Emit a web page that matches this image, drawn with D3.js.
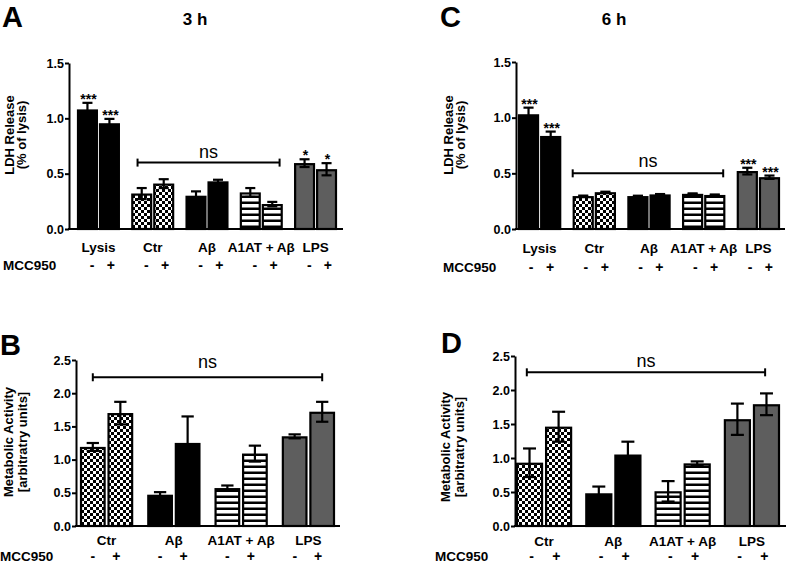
<!DOCTYPE html>
<html>
<head>
<meta charset="utf-8">
<script src="https://cdn.jsdelivr.net/npm/d3@7"></script>
<style>
  body { margin: 0; background: #fff; }
  svg { display: block; }
  text { font-family: "Liberation Sans", Arial, sans-serif; }
</style>
</head>
<body>
<div id="chart"></div>
<script>
// categories
const ldhGroups = ['Lysis', 'Ctr', 'Aβ', 'A1AT + Aβ', 'LPS']
const metaGroups = ['Ctr', 'Aβ', 'A1AT + Aβ', 'LPS']
const mcc950 = ['-', '+']
const ldhFills = ['black', 'check', 'black', 'stripe', 'gray']
const metaFills = ['check', 'black', 'stripe', 'gray']

// tick labels
const ldhTicks = [0, 0.5, 1.0, 1.5]
const metaTicks = [0, 0.5, 1.0, 1.5, 2.0, 2.5]

// values, ordered group by group (- then +)
const ldh3hMean = [1.08, 0.955, 0.32, 0.41, 0.30, 0.43, 0.33, 0.225, 0.595, 0.54]
const ldh3hErr = [0.06, 0.04, 0.05, 0.04, 0.04, 0.015, 0.04, 0.02, 0.035, 0.055]
const ldh3hStars = ['***', '***', '', '', '', '', '', '', '*', '*']

const ldh6hMean = [1.03, 0.835, 0.295, 0.33, 0.295, 0.31, 0.315, 0.305, 0.52, 0.465]
const ldh6hErr = [0.06, 0.04, 0.005, 0.005, 0.004, 0.004, 0.005, 0.005, 0.03, 0.015]
const ldh6hStars = ['***', '***', '', '', '', '', '', '', '***', '***']

const meta3hMean = [1.19, 1.70, 0.47, 1.25, 0.57, 1.09, 1.35, 1.72]
const meta3hErr = [0.06, 0.17, 0.04, 0.40, 0.04, 0.12, 0.03, 0.15]

const meta6hMean = [0.93, 1.46, 0.48, 1.05, 0.51, 0.92, 1.57, 1.79]
const meta6hErr = [0.21, 0.22, 0.10, 0.19, 0.15, 0.03, 0.23, 0.16]

var svg = d3
  .select('#chart')
  .append('svg')
  .attr('width', 786)
  .attr('height', 565)

// fill patterns
var defs = svg.append('defs')
var check = defs
  .append('pattern')
  .attr('id', 'check')
  .attr('patternUnits', 'userSpaceOnUse')
  .attr('width', 6)
  .attr('height', 6)
check.append('rect').attr('width', 6).attr('height', 6).attr('fill', 'black')
check.append('rect').attr('width', 3).attr('height', 3).attr('fill', 'white')
check.append('rect').attr('x', 3).attr('y', 3).attr('width', 3).attr('height', 3).attr('fill', 'white')

var stripe = defs
  .append('pattern')
  .attr('id', 'stripe')
  .attr('patternUnits', 'userSpaceOnUse')
  .attr('width', 6)
  .attr('height', 6)
stripe.append('rect').attr('width', 6).attr('height', 6).attr('fill', 'white')
stripe.append('rect').attr('y', 3.5).attr('width', 6).attr('height', 2.5).attr('fill', 'black')

var fillOf = {
  black: 'black',
  gray: '#5e5e5e',
  check: 'url(#check)',
  stripe: 'url(#stripe)',
}

function drawPanel(p) {
  var g = svg.append('g')

  var y = d3.scaleLinear().domain([0, p.yMax]).range([p.y0, p.yTop])

  var x = d3
    .scaleBand()
    .domain(p.groups)
    .range([p.xStart, p.xEnd])
    .paddingInner(p.groupPad)

  var xi = d3
    .scaleBand()
    .domain(mcc950)
    .range([0, x.bandwidth()])
    .paddingInner(p.barPad)

  var bw = xi.bandwidth()

  var rows = []
  p.groups.forEach(function(grp, gi) {
    mcc950.forEach(function(m, mi) {
      var k = gi * 2 + mi
      rows.push({
        group: grp,
        mcc: m,
        fill: p.fills[gi],
        mean: p.mean[k],
        err: p.err[k],
        star: p.stars ? p.stars[k] : '',
      })
    })
  })

  function bx(d) {
    return x(d.group) + xi(d.mcc)
  }

  // bars
  g.selectAll('.bar')
    .data(rows)
    .enter()
    .append('rect')
    .attr('x', function(d) { return bx(d) + 1 })
    .attr('y', function(d) { return y(d.mean) + 1 })
    .attr('width', bw - 2)
    .attr('height', function(d) { return y(0) - y(d.mean) - 1 })
    .attr('fill', function(d) { return fillOf[d.fill] })
    .attr('stroke', 'black')
    .attr('stroke-width', 2.2)

  // error bars
  var eb = g.selectAll('.err').data(rows).enter().append('g')
  eb.append('line')
    .attr('x1', function(d) { return bx(d) + bw / 2 })
    .attr('x2', function(d) { return bx(d) + bw / 2 })
    .attr('y1', function(d) { return y(d.mean - d.err) })
    .attr('y2', function(d) { return y(d.mean + d.err) })
    .attr('stroke', 'black')
    .attr('stroke-width', 2.2)
  ;[1, -1].forEach(function(s) {
    eb.append('line')
      .attr('x1', function(d) { return bx(d) + bw * 0.26 })
      .attr('x2', function(d) { return bx(d) + bw * 0.74 })
      .attr('y1', function(d) { return y(d.mean + s * d.err) })
      .attr('y2', function(d) { return y(d.mean + s * d.err) })
      .attr('stroke', 'black')
      .attr('stroke-width', 2.2)
  })

  // significance stars
  g.selectAll('.star')
    .data(rows.filter(function(d) { return d.star }))
    .enter()
    .append('text')
    .attr('x', function(d) { return bx(d) + bw / 2 + 1 })
    .attr('y', function(d) { return y(d.mean + d.err) + 1 })
    .attr('text-anchor', 'middle')
    .style('font-size', '14px')
    .style('font-weight', 'bold')
    .text(function(d) { return d.star })

  // y axis
  var yAxis = g
    .append('g')
    .attr('transform', 'translate(' + p.axisX + ',0)')
    .call(
      d3
        .axisLeft(y)
        .tickValues(p.ticks)
        .tickFormat(d3.format('.1f'))
        .tickSize(4)
        .tickSizeOuter(0)
        .tickPadding(1)
    )
  yAxis.select('.domain').attr('stroke-width', 2)
  yAxis.selectAll('.tick line').attr('stroke-width', 2)
  yAxis
    .selectAll('.tick text')
    .style('font-size', '12.5px')
    .style('font-weight', 'bold')
    .style('font-family', '"Liberation Sans", Arial, sans-serif')
    .attr('fill', 'black')

  // baseline
  g.append('line')
    .attr('x1', p.axisX - 1)
    .attr('x2', p.axisEnd)
    .attr('y1', y(0))
    .attr('y2', y(0))
    .attr('stroke', 'black')
    .attr('stroke-width', 2)

  // y label, two lines
  p.yLabel.forEach(function(t, i) {
    g.append('text')
      .attr('transform', 'translate(' + p.yLabelX[i] + ',' + p.yLabelY + ') rotate(-90)')
      .attr('text-anchor', 'middle')
      .style('font-size', '13px')
      .style('font-weight', 'bold')
      .text(t)
  })

  // category labels
  g.selectAll('.cat')
    .data(p.groups)
    .enter()
    .append('text')
    .attr('x', function(d) { return x(d) + x.bandwidth() / 2 })
    .attr('y', p.catY)
    .attr('text-anchor', 'middle')
    .style('font-size', '13.5px')
    .style('font-weight', 'bold')
    .text(function(d) { return d })

  // MCC950 row
  g.append('text')
    .attr('x', p.mccX)
    .attr('y', p.mccY)
    .style('font-size', '13.5px')
    .style('font-weight', 'bold')
    .text('MCC950')

  g.selectAll('.mcc')
    .data(rows)
    .enter()
    .append('text')
    .attr('x', function(d) {
      var c = x(d.group) + x.bandwidth() / 2
      return c + (bx(d) + bw / 2 - c) * 0.85 + p.mccShift
    })
    .attr('y', p.mccY)
    .attr('text-anchor', 'middle')
    .style('font-size', '14px')
    .style('font-weight', 'bold')
    .text(function(d) { return d.mcc })

  // ns bracket
  var b = p.bracket
  var bx1 = x(b.from) + xi('-') + bw * b.fromFrac
  var bx2 = x(b.to) + xi('+') + bw * b.toFrac
  var by = y(b.val)
  g.append('line')
    .attr('x1', bx1).attr('x2', bx2)
    .attr('y1', by).attr('y2', by)
    .attr('stroke', 'black').attr('stroke-width', 2)
  ;[bx1, bx2].forEach(function(xx) {
    g.append('line')
      .attr('x1', xx).attr('x2', xx)
      .attr('y1', by - 4).attr('y2', by + 4)
      .attr('stroke', 'black').attr('stroke-width', 2)
  })
  g.append('text')
    .attr('x', (bx1 + bx2) / 2)
    .attr('y', by - b.textGap)
    .attr('text-anchor', 'middle')
    .style('font-size', '18px')
    .text('ns')

  // panel letter and title
  g.append('text')
    .attr('x', p.letterX)
    .attr('y', p.letterY)
    .style('font-size', '29px')
    .style('font-weight', 'bold')
    .text(p.letter)

  if (p.title) {
    g.append('text')
      .attr('x', p.titleX)
      .attr('y', 25)
      .attr('text-anchor', 'middle')
      .style('font-size', '17px')
      .style('font-weight', 'bold')
      .text(p.title)
  }
}

drawPanel({
  letter: 'A', letterX: 2, letterY: 26.5, title: '3 h', titleX: 195,
  groups: ldhGroups, fills: ldhFills, mean: ldh3hMean, err: ldh3hErr, stars: ldh3hStars,
  ticks: ldhTicks, yMax: 1.5, y0: 229, yTop: 63,
  axisX: 69, axisEnd: 343, xStart: 77, xEnd: 337, groupPad: 0.21, barPad: 0.05,
  yLabel: ['LDH Release', '(% of lysis)'], yLabelX: [14, 26], yLabelY: 135,
  catY: 252, mccY: 270, mccX: 3, mccShift: 3,
  bracket: { from: 'Ctr', fromFrac: 0.3, to: 'A1AT + Aβ', toFrac: 0.85, val: 0.6, textGap: 5 },
})

drawPanel({
  letter: 'C', letterX: 440, letterY: 26.5, title: '6 h', titleX: 614,
  groups: ldhGroups, fills: ldhFills, mean: ldh6hMean, err: ldh6hErr, stars: ldh6hStars,
  ticks: ldhTicks, yMax: 1.5, y0: 229, yTop: 62,
  axisX: 516, axisEnd: 785, xStart: 518, xEnd: 780, groupPad: 0.21, barPad: 0.05,
  yLabel: ['LDH Release', '(% of lysis)'], yLabelX: [453, 465], yLabelY: 135,
  catY: 253, mccY: 272, mccX: 443, mccShift: 1,
  bracket: { from: 'Ctr', fromFrac: 0.0, to: 'A1AT + Aβ', toFrac: 0.9, val: 0.5, textGap: 6 },
})

drawPanel({
  letter: 'B', letterX: 0, letterY: 355,
  groups: metaGroups, fills: metaFills, mean: meta3hMean, err: meta3hErr,
  ticks: metaTicks, yMax: 2.5, y0: 526, yTop: 360,
  axisX: 76, axisEnd: 340, xStart: 80, xEnd: 335, groupPad: 0.21, barPad: 0.07,
  yLabel: ['Metabolic Activity', '[arbitratry units]'], yLabelX: [13, 27], yLabelY: 442,
  catY: 545, mccY: 561, mccX: 0, mccShift: -2,
  bracket: { from: 'Ctr', fromFrac: 0.5, to: 'LPS', toFrac: 0.5, val: 2.24, textGap: 9 },
})

drawPanel({
  letter: 'D', letterX: 441, letterY: 353,
  groups: metaGroups, fills: metaFills, mean: meta6hMean, err: meta6hErr,
  ticks: metaTicks, yMax: 2.5, y0: 526, yTop: 356,
  axisX: 515, axisEnd: 786, xStart: 516, xEnd: 780, groupPad: 0.19, barPad: 0.07,
  yLabel: ['Metabolic Activity', '[arbitratry units]'], yLabelX: [450, 464], yLabelY: 447,
  catY: 546, mccY: 561, mccX: 435, mccShift: 0,
  bracket: { from: 'Ctr', fromFrac: 0.4, to: 'LPS', toFrac: 0.45, val: 2.26, textGap: 5 },
})
</script>
</body>
</html>
